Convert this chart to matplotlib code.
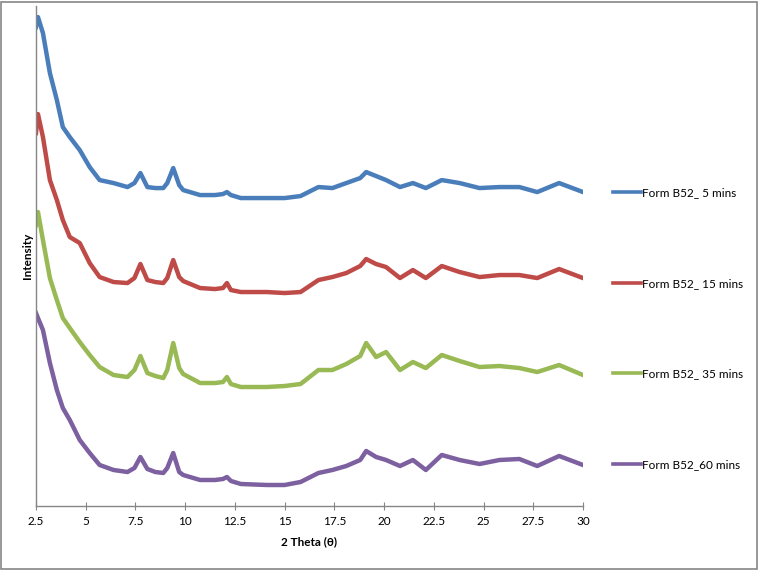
import matplotlib
matplotlib.use("Agg")
import matplotlib.pyplot as plt
from matplotlib.patches import Rectangle

plt.rcParams['font.family'] = ['Lato', 'DejaVu Sans']

# 2 theta positions (shared by all four patterns)
two_theta = [2.5, 2.6, 2.85, 3.2, 3.55, 3.85, 4.2, 4.7, 5.2, 5.7, 6.4, 7.1,
             7.45, 7.75, 8.1, 8.5, 8.9, 9.1, 9.4, 9.7, 9.9, 10.75, 11.5, 11.9,
             12.1, 12.3, 12.8, 14.1, 15.0, 15.8, 16.7, 17.4, 18.1, 18.8, 19.1,
             19.6, 20.1, 20.8, 21.45, 22.1, 22.9, 23.8, 24.8, 25.8, 26.8, 27.7,
             28.8, 30.0]

# intensities (arbitrary, stacked offsets as in the original)
form_5 = [479, 489, 473, 433, 406, 379, 369, 356, 339, 326, 323, 319, 323, 333,
          319, 318, 318, 323, 338, 321, 316, 311, 311, 312, 314, 311, 308, 308,
          308, 310, 319, 318, 323, 328, 334, 330, 326, 319, 323, 318, 326, 323,
          318, 319, 319, 314, 323, 314]
form_15 = [373, 392, 369, 326, 306, 286, 269, 263, 243, 229, 224, 223, 228, 242,
           226, 224, 223, 228, 246, 229, 225, 218, 217, 218, 223, 216, 214, 214,
           213, 214, 226, 229, 233, 240, 247, 242, 239, 228, 236, 228, 240, 234,
           229, 231, 231, 228, 237, 228]
form_35 = [281, 294, 266, 228, 206, 188, 178, 164, 151, 139, 131, 129, 136, 150,
           133, 130, 128, 136, 163, 138, 132, 123, 123, 124, 129, 122, 119, 119,
           120, 122, 136, 136, 142, 150, 163, 149, 154, 136, 144, 138, 151, 145,
           139, 140, 138, 134, 141, 131]
form_60 = [193, 188, 176, 143, 116, 98, 86, 66, 53, 41, 36, 34, 38, 49, 37, 34,
           33, 38, 53, 34, 31, 26, 26, 27, 29, 25, 22, 21, 21, 24, 33, 36, 40,
           46, 55, 49, 46, 40, 46, 36, 51, 46, 42, 46, 47, 40, 50, 41]

labels = ['Form B52_ 5 mins', 'Form B52_ 15 mins', 'Form B52_ 35 mins',
          'Form B52_60 mins']
colors = ['#4A7EBB', '#BE4B48', '#98B954', '#7D60A0']
x_ticks = [2.5, 5, 7.5, 10, 12.5, 15, 17.5, 20, 22.5, 25, 27.5, 30]

fig = plt.figure(figsize=(7.59, 5.70), dpi=100)
ax = fig.add_axes([0.0474, 0.1123, 0.7207, 0.877])

for series, label, color in zip([form_5, form_15, form_35, form_60], labels, colors):
    ax.plot(two_theta, series, color=color, linewidth=3.2, label=label,
            solid_joinstyle='round')

ax.set_xlim(2.5, 30)
ax.set_ylim(0, 500)
ax.set_xticks(x_ticks)
ax.set_xticklabels([f'{t:g}' for t in x_ticks])
ax.set_yticks([])
ax.tick_params(axis='x', direction='inout', length=6, width=0.8,
               color='#868686', labelsize=8.5, pad=4)
for side in ['top', 'right']:
    ax.spines[side].set_visible(False)
for side in ['left', 'bottom']:
    ax.spines[side].set_color('#868686')
    ax.spines[side].set_linewidth(1.0)

ax.set_xlabel('2 Theta (θ)', fontsize=8.5, fontweight='bold', labelpad=7)
ax.set_ylabel('Intensity', fontsize=8.5, fontweight='bold', labelpad=2)

leg = fig.legend(loc='center left', bbox_to_anchor=(0.793, 0.4237), frameon=False,
                 fontsize=8.5, labelspacing=6.75, handlelength=2.4,
                 handletextpad=0.1)
for line in leg.get_lines():
    line.set_linewidth(2.6)

# outer chart border
fig.patches.append(Rectangle((0.0015, 0.0025), 0.996, 0.994, transform=fig.transFigure,
                             fill=False, edgecolor='#868686', linewidth=1.2))

fig.savefig('out.png', dpi=100)
